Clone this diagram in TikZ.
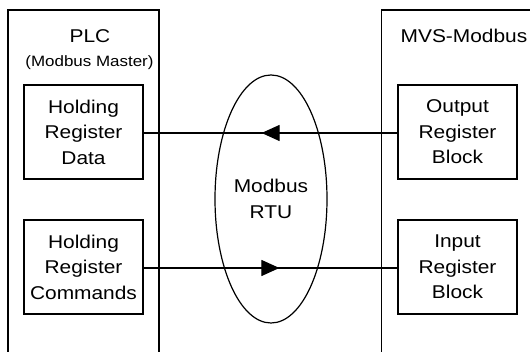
\documentclass[tikz,border=0pt]{standalone}
\usepackage{fontspec}
\setmainfont{Liberation Sans}[FakeStretch=1.13]
\usetikzlibrary{arrows.meta,shapes.geometric,decorations.markings,positioning}

\begin{document}
\begin{tikzpicture}[x=1pt,y=1pt,line width=1.2pt,node distance=135pt,
    regbox/.style={draw,minimum width=119pt,minimum height=94pt,inner sep=0pt,
                   align=center,font=\fontsize{18.5}{25.5}\selectfont},
    title/.style={anchor=base,font=\fontsize{18.5}{22}\selectfont},
    link/.style={postaction={decorate},decoration={markings,
                 mark=at position 0.535 with {\arrow{Triangle[length=18pt,width=16pt]}}}}]

  \useasboundingbox (0,0) rectangle (530,352);
  \clip (0,0) rectangle (530,352);

  % the two units
  \draw (8,-20) rectangle (159,342);
  \draw (381.5,-20) rectangle (560,342);

  \node[title] (plc)    at (90,309)   {PLC};
  \node[title,font=\fontsize{15}{18}\selectfont] (master) at (89.5,285) {(Modbus Master)};
  \node[title] (mvs)    at (464,309)  {MVS-Modbus};

  \node[regbox] (hrdata)             at (83.5,220)  {Holding\\Register\\Data};
  \node[regbox] (hrcmd)  [below of=hrdata]          {Holding\\Register\\Commands};
  \node[regbox] (outblk)             at (457.5,220) {Output\\Register\\Block};
  \node[regbox] (inblk)  [below of=outblk]          {Input\\Register\\Block};

  % bus
  \node[ellipse,draw,minimum width=112pt,minimum height=248pt,inner sep=0pt,
        align=center,font=\fontsize{18.5}{25.5}\selectfont] (rtu) at (271,153) {Modbus\\RTU};

  \draw[link] ([yshift=-1pt]outblk.west) -- ([yshift=-1pt]hrdata.east);
  \draw[link] ([yshift=-1pt]hrcmd.east) -- ([yshift=-1pt]inblk.west);

\end{tikzpicture}
\end{document}
